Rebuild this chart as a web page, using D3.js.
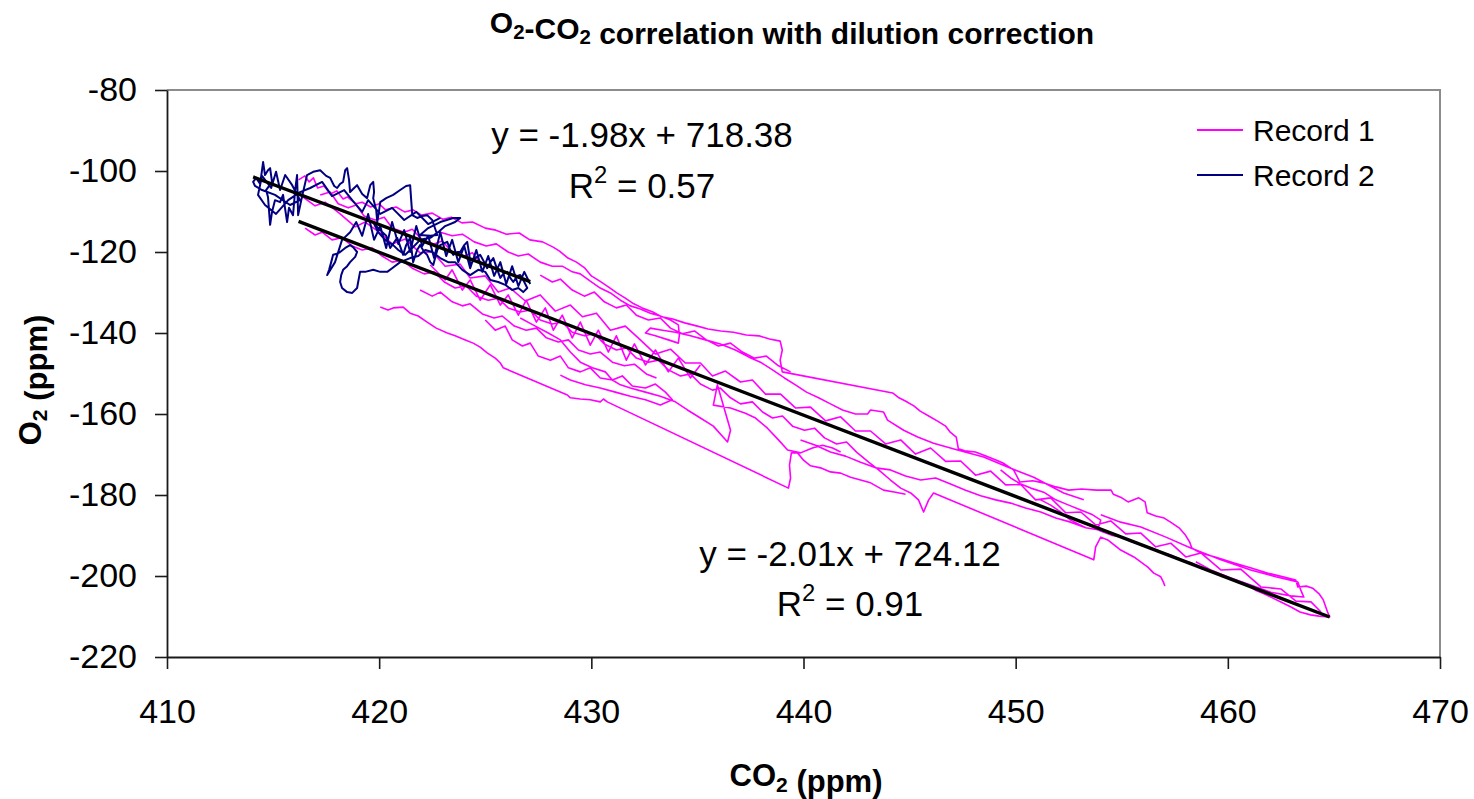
<!DOCTYPE html>
<html>
<head>
<meta charset="utf-8">
<script src="https://cdn.jsdelivr.net/npm/d3@7"></script>
<style>
  body { margin: 0; background: #fff; }
  svg { display: block; }
  text { font-family: "Liberation Sans", Arial, Helvetica, sans-serif; fill: #000; }
</style>
</head>
<body>
<svg id="chart" width="1474" height="799"></svg>
<script>
// Axis ticks
const co2Ticks = [410, 420, 430, 440, 450, 460, 470];
const o2Ticks = [-220, -200, -180, -160, -140, -120, -100, -80];

// Series metadata
const seriesNames = ["Record 1", "Record 2"];
const seriesColors = ["#ff00ff", "#000080"];

// Linear fits (O2 = slope * CO2 + intercept)
const fitSlopes = [-2.01, -1.98];
const fitIntercepts = [724.12, 718.38];
const fitR2 = [0.91, 0.57];

// Record 1: [CO2 ppm, O2 ppm]; null separates recording bursts
const record1 = [
  [416.2,-102.2],[416.5,-101.2],[416.7,-102.7],[416.9,-101.7],[417.1,-104.2],[417.4,-103.7],[417.7,-105.7],[418.0,-104.9],
  [418.3,-106.9],[418.5,-106.4],[418.9,-108.1],[419.2,-107.7],[419.6,-108.9],[420.0,-108.1],[420.3,-109.6],[420.8,-108.9],
  [421.2,-110.1],[421.6,-109.6],[422.0,-110.9],[422.5,-110.4],[423.0,-111.9],[423.4,-111.4],[423.9,-112.8],[424.4,-112.6],
  [425.0,-114.1],[425.5,-114.6],[426.0,-115.6],[426.6,-115.3],[427.1,-117.0],[427.7,-117.5],[428.2,-118.8],[428.5,-119.8],
  [428.9,-121.5],[429.3,-122.5],[429.7,-124.0],[430.0,-125.9],[430.4,-127.2],[430.8,-128.6],[431.2,-130.1],[431.6,-131.4],
  [432.0,-132.8],[432.4,-133.8],[432.9,-134.8],[433.3,-136.0],[433.8,-136.5],[434.4,-137.5],[435.0,-138.3],[435.5,-139.0],
  [436.1,-139.5],[436.7,-139.8],[437.3,-140.5],[437.9,-140.7],[438.4,-141.5],[438.9,-142.0],[439.0,-144.2],[438.9,-146.7],
  [439.0,-149.6],[444.2,-154.8],[444.5,-156.0],[444.8,-156.8],[445.2,-158.0],[445.5,-159.3],[445.9,-160.5],[446.3,-161.7],
  [446.7,-163.0],[446.9,-164.4],[447.2,-165.7],[447.3,-168.6],[447.6,-169.1],[448.1,-169.4],[448.6,-170.4],[449.1,-171.4],
  [449.4,-172.1],[449.9,-173.8],[450.2,-176.8],[450.8,-176.5],[451.3,-177.0],[451.9,-178.0],[452.5,-178.8],[453.1,-178.5],
  [453.8,-178.8],[454.5,-178.8],[454.6,-179.8],[455.0,-180.7],[455.3,-181.7],[455.8,-180.7],[456.1,-181.7],[456.2,-184.4],
  [456.6,-185.2],[457.0,-185.7],[457.3,-186.7],[457.7,-188.1],[458.0,-189.9],[458.2,-191.6],[458.3,-193.1],[458.7,-194.3],
  [459.4,-195.3],[460.3,-196.8],[461.1,-198.0],[461.9,-199.3],[462.6,-200.2],[463.2,-201.0],[463.3,-202.7],[463.7,-202.5],
  [464.0,-203.0],[464.3,-204.4],[464.5,-205.9],[464.6,-207.4],[464.7,-208.9],[464.8,-210.1],[464.3,-209.9],[463.9,-209.6],
  [463.4,-208.9],[463.0,-207.7],[462.5,-206.4],[462.1,-205.4],[461.7,-204.4],[461.3,-203.5],[461.0,-202.5],[460.6,-201.5],
  [460.1,-200.5],[459.7,-200.0],[459.2,-198.8],[458.7,-198.0],[458.3,-196.8],[457.8,-196.0],[457.3,-194.8],[456.8,-194.1],
  [456.4,-193.1],[455.9,-192.3],[455.4,-191.4],[455.0,-190.4],[454.5,-189.9],[454.0,-188.9],[453.7,-188.1],
  null,
  [416.27,-105.9],[416.98,-108.6],[417.45,-107.7],[418.16,-110.6],[418.87,-113.8],[419.34,-112.6],[420.05,-115.3],[420.61,-118.0],
  [421.23,-116.8],[421.93,-120.2],[422.50,-119.9],[423.11,-123.5],[423.82,-123.0],[424.29,-126.4],[425.0,-125.9],[425.61,-129.9],
  [426.18,-128.9],[426.89,-132.1],[427.59,-130.6],[428.30,-134.6],[429.01,-133.1],[429.58,-136.0],[430.24,-135.1],[430.90,-139.3],
  [431.60,-138.3],[432.31,-141.7],[433.02,-145.2],[433.73,-144.0],[434.43,-147.4],[435.14,-147.4],[435.71,-150.6],[436.32,-149.4],
  [437.03,-152.1],[437.59,-151.6],[438.21,-155.1],[438.92,-155.1],[439.62,-158.5],[440.33,-158.3],[441.04,-161.7],[441.75,-160.7],
  [442.45,-164.2],[443.16,-164.2],[443.87,-167.4],[444.58,-166.4],[445.28,-169.9],[445.99,-168.4],[446.70,-171.7],[447.41,-171.6],
  [448.11,-175.1],[448.82,-174.1],[449.53,-177.5],[450.24,-177.4],[450.94,-181.2],[451.65,-180.7],[452.36,-184.4],[453.07,-184.2],
  [453.77,-187.4],[454.48,-186.4],[455.19,-189.6],[455.90,-189.4],[456.60,-192.8],[457.31,-191.9],[458.02,-195.3],[458.73,-194.3],
  [459.67,-198.5],[460.61,-198.3],[461.56,-202.7],[462.50,-203.2],[463.21,-206.2],[463.92,-206.4],[464.39,-208.9],
  null,
  [416.51,-114.1],[416.98,-115.8],[417.31,-115.1],[417.78,-117.0],[418.25,-116.5],[418.73,-118.5],[419.20,-119.5],[419.67,-119.0],
  [420.14,-121.0],[420.61,-122.5],[421.08,-122.0],[421.56,-124.0],[422.12,-125.4],[422.59,-124.9],[423.07,-127.4],[423.58,-128.9],
  [424.10,-128.4],[424.58,-130.9],[425.14,-131.9],[425.61,-131.4],[426.08,-133.8],[426.65,-134.8],[427.12,-134.3],[427.59,-136.8],
  [428.16,-137.8],[428.63,-137.3],[429.10,-139.8],[429.67,-140.7],[430.14,-140.2],[430.61,-142.7],[431.18,-144.2],[431.65,-143.7],
  [432.12,-146.2],[432.69,-147.2],[433.16,-146.7],[433.63,-149.1],[434.20,-150.6],[434.67,-150.1],[435.14,-152.6],[435.71,-154.1],
  [436.08,-153.6],[436.56,-156.0],[437.03,-157.5],[437.59,-157.0],[438.07,-159.5],[438.54,-161.0],[439.01,-160.5],[439.48,-163.0],
  [440.05,-164.0],[440.52,-163.5],[440.99,-165.9],[441.56,-167.4],[442.03,-166.9],[442.50,-169.4],[443.07,-171.9],[443.54,-173.8],
  [444.10,-176.3],[444.58,-178.3],[445.05,-179.5],[445.42,-181.2],[445.66,-184.2],[445.90,-181.2],[446.13,-179.5],[453.68,-196.0],
  [453.77,-192.8],[454.01,-190.4],[454.34,-191.1],[454.95,-193.6],[455.57,-195.3],[456.23,-197.8],[456.51,-199.3],[456.84,-200.2],
  [456.98,-201.7],[457.03,-202.5],
  null,
  [420.05,-133.6],[420.42,-134.3],[420.66,-133.8],[421.13,-133.6],[421.46,-135.1],[421.84,-135.8],[422.26,-137.3],[422.69,-138.8],
  [423.21,-140.0],[423.58,-140.7],[424.06,-141.7],[424.43,-142.5],[424.76,-143.5],[425.09,-144.9],[425.47,-146.2],[425.71,-147.4],
  [425.85,-148.6],[428.87,-155.3],[429.01,-156.0],[429.48,-156.3],[429.95,-156.5],[430.42,-157.0],[430.57,-156.3],[430.75,-157.0],
  [439.29,-178.3],[439.39,-175.8],[439.34,-172.6],[439.43,-169.6],[439.72,-169.6],[440.0,-171.4],[440.33,-172.8],[440.80,-173.3],
  [441.27,-174.3],[441.75,-174.6],[442.22,-175.6],[442.69,-176.3],[443.16,-177.0],[443.77,-178.8],[444.34,-179.3],[444.81,-179.8],
  null,
  [426.65,-136.3],[427.36,-138.3],[427.97,-140.0],[428.54,-141.7],[429.01,-144.7],[429.48,-147.2],[430.05,-148.6],[430.66,-149.6],
  [430.99,-151.6],[431.37,-152.8],[431.84,-153.6],[432.55,-154.6],[433.25,-155.6],[433.96,-157.0],[434.53,-159.0],[435.14,-161.0],
  [435.75,-163.0],[436.42,-166.9],[436.56,-164.0],[435.94,-152.8],[435.75,-157.8],[436.56,-158.5],[437.26,-159.8],[437.74,-161.0],
  [438.30,-163.5],[438.82,-166.4],[439.25,-168.9],[439.86,-169.6],[440.42,-168.4],[440.90,-167.7],[441.37,-168.4],[441.75,-169.4],
  null,
  [422.88,-115.1],[423.44,-116.0],[423.92,-115.6],[424.48,-117.5],[425.05,-118.5],[425.52,-118.0],[426.08,-120.0],[426.56,-121.0],
  [427.03,-120.5],[427.59,-122.5],[428.16,-123.5],[428.63,-123.5],[429.10,-124.9],[429.48,-125.4],[429.95,-127.2],[430.42,-128.9],
  [430.90,-130.1],[431.37,-131.9],[431.84,-133.3],[432.31,-134.1],[432.78,-135.1],[433.25,-135.8],[433.73,-136.8],[434.10,-138.0],
  [434.15,-140.5],[434.10,-142.5],[433.63,-141.7],[433.02,-140.7],[432.55,-140.0],[432.78,-138.8],[433.35,-139.3],[433.96,-139.8],
  [434.67,-140.7],[435.38,-141.7],[436.08,-142.7],[436.79,-144.2],[437.41,-145.9],[437.97,-147.2],[438.54,-149.1],[439.10,-151.1],
  [439.62,-152.8],[440.14,-154.6],[440.71,-156.0],[441.27,-157.5],[441.84,-159.0],[442.45,-160.0],[443.02,-160.0],[443.16,-159.0],
  [443.77,-159.5],[443.96,-161.5],[444.72,-164.0],[445.38,-165.7],[446.13,-167.2],[447.26,-168.9],[448.49,-170.6],[449.62,-173.1],
  [450.85,-175.6],[452.26,-179.5],[453.21,-181.2],
  null,
  [422.41,-123.2],[423.11,-126.9],[423.44,-124.4],[423.92,-129.4],[424.29,-126.9],[424.76,-131.9],[425.24,-128.1],[425.71,-133.1],
  [426.08,-130.6],[426.56,-135.6],[426.93,-131.9],[427.41,-137.3],[427.83,-133.8],[428.21,-139.3],[428.63,-135.6],[429.10,-141.2],
  [429.48,-137.3],[429.95,-143.0],[430.33,-139.3],[430.80,-144.7],[431.18,-140.7],[431.65,-146.7],[432.03,-142.7],[432.55,-147.9],
  [433.02,-144.2],[433.63,-149.6],[434.10,-146.2],[434.67,-151.1],[435.14,-147.9],
  null,
  [421.93,-129.4],[422.50,-130.9],[422.88,-129.9],[423.44,-132.3],[423.92,-133.3],[424.29,-132.8],[424.86,-135.3],[425.42,-136.3],
  [425.80,-135.8],[426.37,-138.3],[426.93,-139.3],[427.41,-138.8],[427.88,-141.2],[428.44,-142.2],[428.92,-141.7],[429.39,-144.2],
  [429.95,-145.2],[430.42,-144.7],[430.99,-147.2],[431.56,-148.1],[432.03,-147.7],[432.59,-150.1],[433.07,-151.1],
  null,
  [425.0,-136.8],[425.47,-139.3],[425.94,-138.3],[426.27,-141.7],[426.75,-143.2],[427.12,-142.5],[427.50,-145.7],[428.07,-146.7],
  [428.54,-145.7],[428.92,-148.6],[429.48,-149.6],[429.95,-148.6],[430.42,-151.1],[430.99,-151.6],[431.46,-150.6],[431.93,-153.1],
  [432.55,-153.6],[433.02,-152.6],[433.49,-154.6],[433.82,-156.5],[433.25,-157.8],[432.55,-156.5],[431.84,-155.6],[431.13,-154.6],
  [430.42,-153.6],[429.72,-152.8],[429.01,-151.6],[428.54,-150.4],
  null,
  [427.59,-125.7],[428.16,-127.4],[428.54,-126.7],[429.10,-129.4],[429.67,-130.9],[430.14,-129.9],[430.61,-132.3],[431.18,-133.8],
  [431.65,-133.1],[432.12,-135.6],[432.69,-136.8],[433.25,-136.3],[433.73,-138.8],[434.29,-140.2],[434.86,-139.5],[435.42,-141.7],
  [435.99,-143.2],[436.56,-142.5],[437.12,-144.7],[437.69,-146.2],[438.25,-145.7],[438.82,-148.1],[439.39,-149.6],
  null,
  [417.22,-105.9],[417.69,-105.2],[418.07,-108.1],[418.54,-109.1],[418.92,-108.4],[419.29,-111.1],[419.81,-112.1],[420.24,-111.4],
  [420.61,-114.1],[421.18,-115.1],[421.56,-114.4],[422.03,-117.0],[422.59,-118.0],[422.97,-117.3],[423.44,-120.0],[424.01,-121.0],
  [424.39,-120.2],[424.86,-123.0],[425.42,-124.0],
  null,
  [439.86,-166.4],[440.57,-167.7],[441.27,-169.4],[441.98,-170.4],[442.69,-171.9],[443.40,-173.3],[444.10,-173.8],[444.81,-175.3],
  [445.52,-176.3],[446.23,-175.8],[446.93,-177.3],[447.64,-178.8],[448.35,-180.2],[449.06,-181.2],[449.76,-182.0],[450.47,-183.2],
  [451.18,-184.2],[451.89,-185.7],[452.59,-186.7],[453.30,-188.1],
  null,
  [454.01,-184.9],[454.95,-186.7],[455.90,-187.9],[457.08,-190.4],[458.25,-193.1],[459.67,-196.0],[461.08,-198.5],[462.26,-200.2],
  [463.30,-201.5],[463.44,-203.5],[463.58,-205.2],[462.97,-204.9],[462.03,-204.0],[461.08,-202.2],[460.14,-200.5],[459.20,-198.5],
  [458.49,-196.5],
  null,
  [449.29,-173.8],[449.76,-175.8],[450.24,-177.3],[450.71,-178.3],[451.32,-179.3],[451.89,-181.2],[452.50,-182.5],[453.07,-183.7],
  [453.63,-184.9],[454.01,-186.2],[453.87,-188.6],[453.30,-188.1],[452.59,-186.2],[452.12,-184.2],[451.65,-182.5],[451.18,-181.2]
];

// Record 2: [CO2 ppm, O2 ppm]
const record2 = [
  [422.88,-111.6],[422.31,-113.1],[421.75,-110.1],[421.18,-112.1],[420.61,-109.1],[420.05,-110.6],[419.48,-107.2],[419.20,-110.1],
  [418.73,-107.2],[418.35,-104.7],[417.78,-106.2],[417.31,-102.7],[416.75,-104.2],[416.27,-105.2],[415.71,-107.2],[415.14,-110.6],
  [414.62,-108.4],[414.29,-105.9],[414.48,-101.2],[414.91,-104.2],[415.14,-100.2],[415.33,-104.7],[415.57,-101.0],[415.90,-103.5],
  [416.27,-107.2],[415.80,-108.4],[415.09,-105.9],[414.48,-104.7],[414.15,-103.7],
  [414.06,-102.7],[414.20,-101.7],[414.39,-103.2],[414.53,-97.8],[414.62,-101.0],[414.76,-99.8],[414.86,-99.3],[414.95,-102.7],
  [414.67,-104.7],[414.76,-106.4],[414.86,-113.3],[414.95,-110.1],[415.09,-107.2],[415.33,-107.7],[415.47,-105.9],[415.66,-112.6],
  [415.75,-109.1],[415.94,-110.9],[416.04,-104.7],[416.13,-101.0],[416.18,-110.9],[416.37,-106.2],[416.60,-101.0],[416.89,-100.2],
  [417.22,-99.8],[417.50,-101.2],[417.69,-101.7],[417.88,-103.7],[418.02,-104.2],[418.16,-103.2],[418.30,-102.7],[418.40,-99.8],
  [418.49,-99.3],[418.58,-102.2],[418.63,-105.2],[418.82,-104.2],[418.96,-103.5],[419.20,-105.7],[419.43,-106.7],[419.58,-103.5],
  [419.72,-102.7],[419.76,-105.2],[419.72,-106.7],[419.86,-109.6],[419.91,-112.6],[420.0,-109.6],[420.05,-107.7],[420.33,-106.7],
  [420.66,-105.9],[420.99,-104.7],[421.27,-103.7],[421.46,-103.5],[421.51,-107.2],[421.56,-110.9],[421.79,-111.6],[422.03,-111.1],
  [422.26,-110.9],[422.50,-112.1],[422.74,-115.8],[422.41,-116.0],[421.93,-115.8],[422.31,-114.1],[422.88,-112.6],[423.49,-111.6],
  [423.82,-111.6],[423.58,-112.6],[423.11,-113.6],[422.78,-115.1],[422.41,-116.5],[421.93,-117.0],[421.56,-119.0],[421.23,-120.7],
  [420.90,-119.5],[420.66,-118.3],[420.28,-117.0],[419.95,-115.1],[419.72,-112.6],[419.95,-114.1],[420.33,-116.0],[420.52,-119.0],
  [420.85,-116.5],[421.13,-120.7],[421.27,-118.3],[421.46,-116.5],[421.60,-122.5],[421.79,-119.5],[421.93,-118.3],[422.12,-120.0],
  [422.26,-120.7],[422.41,-122.5],[422.55,-123.2],[422.74,-119.5],[422.88,-118.3],[423.07,-117.8],[423.21,-117.5],[423.35,-119.5],
  [423.49,-120.7],[423.68,-120.0],[423.82,-120.0],[424.01,-118.3],[424.15,-117.5],[424.25,-120.7],[424.29,-123.2],[424.53,-121.5],
  [424.76,-120.7],[424.95,-122.5],[425.09,-124.0],[425.24,-122.5],[425.38,-121.5],[425.57,-124.4],[425.71,-126.4],[425.85,-125.4],
  [426.04,-124.9],[426.18,-126.4],[426.32,-127.4],[426.51,-125.9],[426.65,-125.7],[426.84,-127.4],[426.98,-128.9],[426.79,-129.9],
  [426.56,-128.9],[426.27,-129.4],[425.94,-128.1],[425.61,-127.4],[425.24,-126.9],[425.0,-124.9],[424.67,-124.4],[424.29,-125.7],
  [423.92,-124.4],[423.58,-122.5],[423.25,-122.5],[422.88,-121.5],[422.50,-120.0],[422.17,-119.5],[421.84,-121.0],[421.46,-121.5],
  [420.99,-122.5],[420.61,-124.0],[420.38,-124.9],[420.05,-124.9],[419.72,-124.4],[419.34,-124.9],[419.10,-124.9],[419.01,-127.4],
  [418.96,-128.9],[418.73,-130.1],[418.49,-129.9],[418.25,-128.9],[418.16,-127.4],[418.21,-125.7],[418.30,-124.4],[418.49,-123.5],
  [418.63,-122.5],[418.87,-121.2],[418.96,-120.0],[418.77,-118.8],[418.63,-118.3],[418.40,-119.0],[418.16,-120.0],[417.97,-120.5],
  [417.83,-120.7],[417.74,-122.5],[417.64,-124.4],[417.55,-125.7],[417.92,-122.5],[418.25,-117.0],[418.63,-115.1],[418.92,-112.6],
  [419.20,-116.0],[419.48,-110.6],[419.76,-117.0],[420.05,-113.6],[420.33,-119.0],[420.61,-112.6],[420.90,-118.0],[421.18,-114.6],
  [421.46,-120.0],[421.75,-113.6],[422.03,-118.5],[422.31,-116.0],[422.59,-121.5],[422.88,-115.1],[423.16,-121.0],[423.44,-117.0],
  [423.73,-122.5],[424.01,-118.5],[424.29,-124.0],[424.58,-119.5],[424.86,-124.9],[425.14,-121.0],[425.42,-125.9],[425.71,-122.5],
  [425.99,-127.9],[426.27,-123.5],[426.56,-128.4],[426.84,-124.9],[427.12,-127.9]
];

const series = [record1, record2];

const svg = d3.select("#chart");
const plot = { left: 167, right: 1440, top: 90, bottom: 657 };

const x = d3.scaleLinear().domain([410, 470]).range([plot.left, plot.right]);
const y = d3.scaleLinear().domain([-220, -80]).range([plot.bottom, plot.top]);

// Plot frame: light top and right edges
svg.append("path")
  .attr("d", `M${plot.left},${plot.top}H${plot.right}V${plot.bottom}`)
  .attr("fill", "none")
  .attr("stroke", "#8c8c8c")
  .attr("stroke-width", 2);

// Data traces
const line = d3.line()
  .defined(d => d !== null)
  .x(d => x(d[0]))
  .y(d => y(d[1]));

const traces = svg.append("g");
series.forEach((data, i) => {
  traces.append("path")
    .datum(data)
    .attr("d", line)
    .attr("fill", "none")
    .attr("stroke", seriesColors[i])
    .attr("stroke-width", i === 0 ? 1.6 : 2.0)
    .attr("stroke-linejoin", "round");
});

// Fit lines spanning each record's CO2 range
series.forEach((data, i) => {
  const ext = d3.extent(data.filter(d => d !== null), d => d[0]);
  const pts = ext.map(c => [c, fitSlopes[i] * c + fitIntercepts[i]]);
  svg.append("path")
    .datum(pts)
    .attr("d", d3.line().x(d => x(d[0])).y(d => y(d[1])))
    .attr("fill", "none")
    .attr("stroke", "#000")
    .attr("stroke-width", 3.4);
});

// Axes
const xAxis = svg.append("g")
  .attr("transform", `translate(0,${plot.bottom})`)
  .call(d3.axisBottom(x).tickValues(co2Ticks).tickSize(12).tickSizeOuter(0).tickPadding(30).tickFormat(d => String(d)));
const yAxis = svg.append("g")
  .attr("transform", `translate(${plot.left},0)`)
  .call(d3.axisLeft(y).tickValues(o2Ticks).tickSize(12).tickSizeOuter(0).tickPadding(18).tickFormat(d => String(d)));

[xAxis, yAxis].forEach(g => {
  g.select(".domain").attr("stroke", "#1a1a1a").attr("stroke-width", 1.8);
  g.selectAll(".tick line").attr("stroke", "#1a1a1a").attr("stroke-width", 1.6);
  g.selectAll(".tick text")
    .attr("font-size", 34)
    .attr("font-family", "'Liberation Sans', Arial, sans-serif")
    .attr("fill", "#000");
});

// Text with a subscript "2"
function subText(sel, parts) {
  parts.forEach(p => {
    if (p.sub) {
      sel.append("tspan").attr("font-size", "0.68em").attr("dy", "0.28em").text(p.sub);
      sel.append("tspan").attr("dy", "-0.19em").text("");
    } else {
      sel.append("tspan").text(p.t);
    }
  });
}

// Title
const title = svg.append("text")
  .attr("x", 792).attr("y", 33)
  .attr("text-anchor", "middle")
  .attr("font-size", 30)
  .attr("font-weight", "bold");
subText(title, [{ t: "O" }, { sub: "2" }, { t: "-CO" }, { sub: "2" }, { t: " correlation with dilution correction" }]);

// X axis title
const xTitle = svg.append("text")
  .attr("x", 806).attr("y", 786)
  .attr("text-anchor", "middle")
  .attr("font-size", 31)
  .attr("font-weight", "bold");
subText(xTitle, [{ t: "CO" }, { sub: "2" }, { t: " (ppm)" }]);

// Y axis title
const yTitle = svg.append("text")
  .attr("transform", "translate(41,380) rotate(-90)")
  .attr("text-anchor", "middle")
  .attr("font-size", 31)
  .attr("font-weight", "bold");
subText(yTitle, [{ t: "O" }, { sub: "2" }, { t: " (ppm)" }]);

// Fit equation labels
const fitLabelPos = [[850, 566, 616], [642, 147, 198]];
series.forEach((_, i) => {
  const [lx, ly1, ly2] = fitLabelPos[i];
  svg.append("text")
    .attr("x", lx).attr("y", ly1)
    .attr("text-anchor", "middle")
    .attr("font-size", 35)
    .text(`y = ${fitSlopes[i].toFixed(2)}x + ${fitIntercepts[i].toFixed(2)}`);
  const r = svg.append("text")
    .attr("x", lx).attr("y", ly2)
    .attr("text-anchor", "middle")
    .attr("font-size", 35);
  r.append("tspan").text("R");
  r.append("tspan").attr("font-size", "0.68em").attr("dy", "-0.62em").text("2");
  r.append("tspan").attr("dy", "0.42em").text(` = ${fitR2[i].toFixed(2)}`);
});

// Legend
const legend = svg.append("g");
seriesNames.forEach((name, i) => {
  const ly = 130 + i * 45;
  legend.append("line")
    .attr("x1", 1197).attr("x2", 1243)
    .attr("y1", ly).attr("y2", ly)
    .attr("stroke", seriesColors[i])
    .attr("stroke-width", 1.8);
  legend.append("text")
    .attr("x", 1253).attr("y", ly + 11)
    .attr("font-size", 30)
    .text(name);
});
</script>
</body>
</html>
